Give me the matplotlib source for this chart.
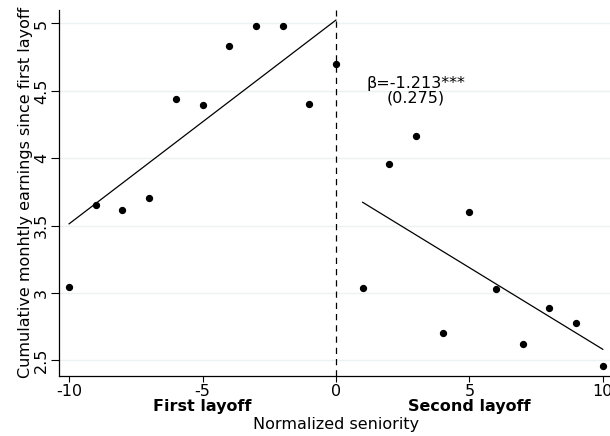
import numpy as np
import matplotlib as mpl
mpl.use('Agg')
import matplotlib.pyplot as plt

# binned means by normalized seniority
seniority = [-10, -9, -8, -7, -6, -5, -4, -3, -2, -1, 0,
             1, 2, 3, 4, 5, 6, 7, 8, 9, 10]
earnings = [3.042, 3.654, 3.613, 3.708, 4.438, 4.394, 4.834, 4.978, 4.982, 4.404, 4.696,
            3.035, 3.958, 4.166, 2.706, 3.599, 3.027, 2.622, 2.889, 2.780, 2.458]

# fitted lines (end points)
fit_left_x = [-10, 0]
fit_left_y = [3.513, 5.025]
fit_right_x = [1, 10]
fit_right_y = [3.673, 2.582]

yticks = [2.5, 3, 3.5, 4, 4.5, 5]
ytick_labels = ["2.5", "3", "3.5", "4", "4.5", "5"]
xticks = [-10, -5, 0, 5, 10]
xtick_labels = ["-10", "-5", "0", "5", "10"]

beta_text = "β=-1.213***\n(0.275)"

fs = 11.5

fig = plt.figure(figsize=(6.1, 4.36), dpi=100)
ax = fig.add_axes([0.0962, 0.1383, 0.909, 0.8388])

grid_col = "#eaf2f3"
for yv in yticks:
    ax.axhline(yv, color=grid_col, lw=1.0, zorder=0)

ax.scatter(seniority, earnings, s=18, color="black", zorder=3)
ax.plot(fit_left_x, fit_left_y, color="black", lw=0.9)
ax.plot(fit_right_x, fit_right_y, color="black", lw=0.9)
ax.axvline(0, color="black", lw=0.9, ls=(0, (5, 4)))

ax.text(3, 4.5, beta_text, ha="center", va="center", fontsize=fs, linespacing=0.9)

ax.set_xlim(-10.39, 10.39)
ax.set_ylim(2.386, 5.1)
ax.set_xticks(xticks)
ax.set_xticklabels(xtick_labels, fontsize=fs)
ax.set_yticks(yticks)
ax.set_yticklabels(ytick_labels, fontsize=fs, rotation=90, va="center")
ax.tick_params(axis="x", pad=1.5, length=4.5, width=0.8)
ax.tick_params(axis="y", pad=1.5, length=5.5, width=0.8)

for s in ["top", "right"]:
    ax.spines[s].set_visible(False)
for s in ["left", "bottom"]:
    ax.spines[s].set_linewidth(0.9)

ax.set_ylabel("Cumulative monhtly earnings since first layoff", fontsize=fs, labelpad=1)

ax.text(-5, -0.085, "First layoff", transform=ax.get_xaxis_transform(),
        ha="center", va="center", fontsize=fs, fontweight="bold")
ax.text(5, -0.085, "Second layoff", transform=ax.get_xaxis_transform(),
        ha="center", va="center", fontsize=fs, fontweight="bold")
ax.text(0, -0.134, "Normalized seniority", transform=ax.get_xaxis_transform(),
        ha="center", va="center", fontsize=fs)

plt.savefig("out.png", dpi=100)
